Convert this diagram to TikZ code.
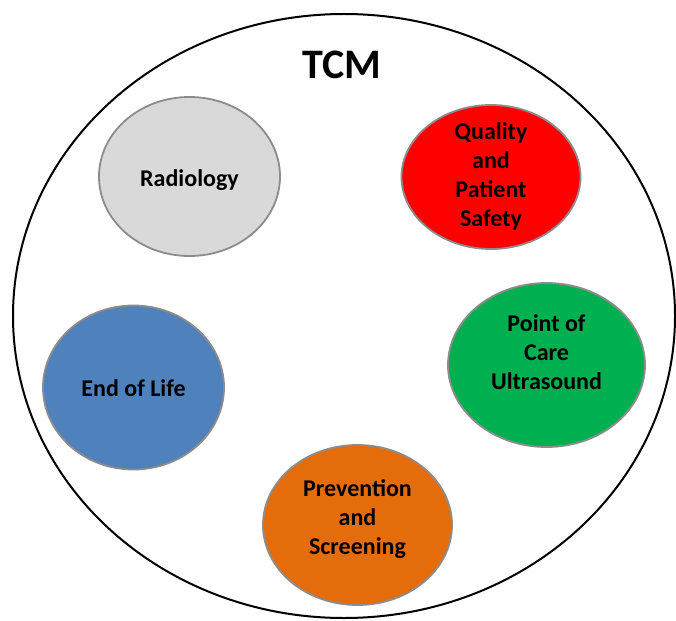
\documentclass[tikz,border=0pt]{standalone}
\usepackage{fontspec}
\setmainfont{Carlito}
\usetikzlibrary{shapes.geometric}
\definecolor{rgray}{HTML}{D9D9D9}
\definecolor{rred}{HTML}{FF0000}
\definecolor{rblue}{HTML}{4F81BD}
\definecolor{rgreen}{HTML}{00B050}
\definecolor{rorange}{HTML}{E46C0A}
\definecolor{redge}{HTML}{8C8C8C}
\begin{document}
\begin{tikzpicture}[x=1pt,y=-1pt,
  topic/.style={ellipse,draw=redge,line width=1.8pt,inner sep=0pt},
  lbl/.style={align=center,inner sep=0pt,font=\fontsize{24}{29}\selectfont\bfseries},
  outer/.style={ellipse,draw=black,line width=2pt,inner sep=0pt}]
\useasboundingbox (0,0) rectangle (676,620);
\node[outer,minimum width=662pt,minimum height=604pt] (tcm) at (344,316) {};
\node[font=\fontsize{42}{44}\selectfont\bfseries] (title) at (342,65) {TCM};
\node[topic,fill=rgray,minimum width=181pt,minimum height=159pt] (rad) at (189.5,176.5) {};
\node[lbl] (radt) at ([yshift=-4pt]rad.center) {Radiology};
\node[topic,fill=rred,minimum width=179pt,minimum height=144pt] (qps) at (491,177) {};
\node[lbl] (qpst) at ([yshift=1pt]qps.center) {Quality\\and\\Patient\\Safety};
\node[topic,fill=rblue,minimum width=181pt,minimum height=164pt] (eol) at (133.5,387.5) {};
\node[lbl] (eolt) at ([yshift=-1pt]eol.center) {End of Life};
\node[topic,fill=rgreen,minimum width=197pt,minimum height=164pt] (pocus) at (546.5,365) {};
\node[lbl] (pocust) at ([yshift=13pt]pocus.center) {Point of\\Care\\Ultrasound};
\node[topic,fill=rorange,minimum width=189pt,minimum height=160pt] (prev) at (357.5,525) {};
\node[lbl] (prevt) at ([yshift=6pt]prev.center) {Prevention\\and\\Screening};
\end{tikzpicture}
\end{document}
